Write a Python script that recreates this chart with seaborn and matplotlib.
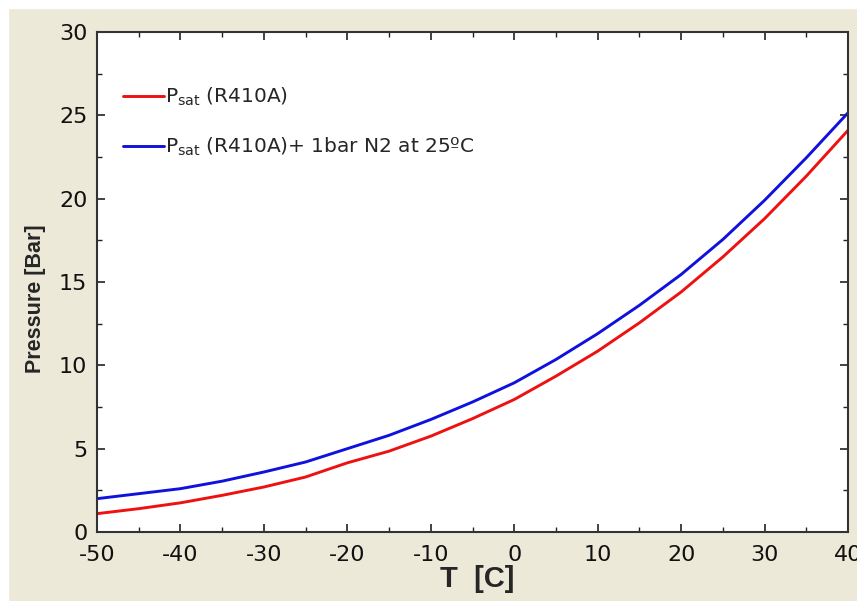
import numpy as np
import pandas as pd
import matplotlib
matplotlib.use('Agg')
import matplotlib.pyplot as plt
import seaborn as sns
from matplotlib.ticker import MultipleLocator

# temperatures [C] and pressures [bar]
temp = [-50, -45, -40, -35, -30, -25, -20, -15, -10, -5, 0, 5, 10, 15, 20, 25, 30, 35, 40]
p_sat = [1.1, 1.4, 1.75, 2.2, 2.7, 3.3, 4.15, 4.85, 5.75, 6.8, 7.95, 9.35, 10.85, 12.55, 14.4, 16.5, 18.8, 21.35, 24.1]
p_sat_n2 = [2.0, 2.3, 2.6, 3.05, 3.6, 4.2, 5.0, 5.8, 6.75, 7.8, 8.95, 10.35, 11.9, 13.6, 15.45, 17.55, 19.9, 22.45, 25.15]

labels = [r'P$_{\mathrm{sat}}$ (R410A)', r'P$_{\mathrm{sat}}$ (R410A)+ 1bar N2 at 25ºC']

df = pd.DataFrame({
    'T': temp * 2,
    'P': p_sat + p_sat_n2,
    'curve': [labels[0]] * len(temp) + [labels[1]] * len(temp),
})

sns.set_theme(style='white')
plt.rcParams['font.family'] = ['DejaVu Sans']
plt.rcParams['axes.unicode_minus'] = False
plt.rcParams['mathtext.fontset'] = 'dejavusans'

bg = '#ECE9D8'
fig = plt.figure(figsize=(8.57, 6.01), dpi=100, facecolor=bg)
# thin white strip at top and left like the screenshot
fig.patches.append(plt.Rectangle((0, 0.987), 1, 0.013, transform=fig.transFigure, color='white', zorder=0))
fig.patches.append(plt.Rectangle((0, 0), 0.009, 1, transform=fig.transFigure, color='white', zorder=0))

ax = fig.add_axes([0.1132, 0.1148, 0.8763, 0.832])
ax.set_facecolor('white')

sns.lineplot(data=df, x='T', y='P', hue='curve', palette=['#EE1111', '#1111DD'],
             linewidth=2.1, ax=ax, legend=True)

ax.set_xlim(-50, 40)
ax.set_ylim(0, 30)
ax.xaxis.set_major_locator(MultipleLocator(10))
ax.xaxis.set_minor_locator(MultipleLocator(5))
ax.yaxis.set_major_locator(MultipleLocator(5))
ax.yaxis.set_minor_locator(MultipleLocator(2.5))
ax.tick_params(which='both', direction='in', top=True, right=True, bottom=True, left=True,
               colors='#222222', labelcolor='#111111')
ax.tick_params(which='major', length=6, width=1.2, labelsize=16)
ax.tick_params(axis='x', which='major', pad=9)
ax.tick_params(axis='y', which='major', pad=7)
ax.tick_params(which='minor', length=3.5, width=1.0)

for s in ax.spines.values():
    s.set_color('#333333')
    s.set_linewidth(1.5)

ax.set_xlabel('T  [C]', fontsize=21, fontweight='bold', family='Liberation Sans')
ax.set_ylabel('Pressure [Bar]', fontsize=15.5, fontweight='bold', family='Liberation Sans')
ax.xaxis.set_label_coords(0.506, -0.066)
ax.yaxis.set_label_coords(-0.068, 0.466)

leg = ax.legend(loc='upper left', bbox_to_anchor=(0.035, 0.892), frameon=False,
                fontsize=14.5, handlelength=2.0, handletextpad=0.05, labelspacing=1.36,
                borderaxespad=0, borderpad=0)
for line in leg.get_lines():
    line.set_linewidth(2.1)

fig.savefig('out.png', dpi=100, facecolor=bg)
